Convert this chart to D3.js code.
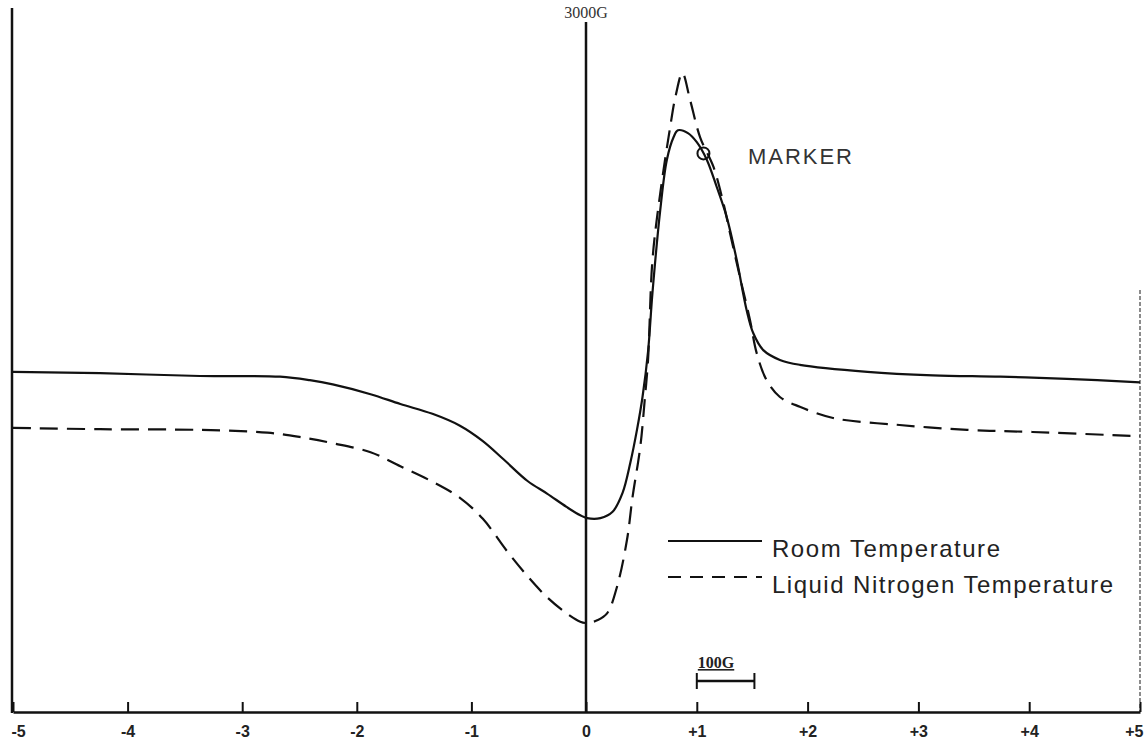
<!DOCTYPE html>
<html>
<head>
<meta charset="utf-8">
<script src="https://cdn.jsdelivr.net/npm/d3@7"></script>
<style>
  body { margin: 0; background: #fff; }
  svg { display: block; }
</style>
</head>
<body>
<svg id="chart" width="1144" height="749"></svg>
<script>
// Field offset (units of the sweep, 0 = 3000G) and signal in arbitrary units

var ticks = [-5, -4, -3, -2, -1, 0, 1, 2, 3, 4, 5];

var roomField = [-5.0, -4.24, -3.37, -2.67, -2.41, -2.21, -1.88, -1.62, -1.34, -1.10,
  -0.90, -0.72, -0.51, -0.34, -0.17, -0.05, 0.01, 0.13, 0.24, 0.33,
  0.40, 0.46, 0.51, 0.56, 0.60, 0.67, 0.73, 0.79, 0.83, 0.92,
  1.00, 1.09, 1.18, 1.27, 1.36, 1.45, 1.51, 1.60, 1.75, 1.93,
  2.54, 3.13, 3.74, 4.34, 5.0];
var roomSignal = [48.6, 48.4, 48.0, 47.9, 47.4, 46.8, 45.4, 44.0, 42.6, 40.9,
  38.7, 36.1, 33.0, 31.2, 29.3, 28.1, 27.7, 27.7, 28.6, 31.3,
  35.6, 40.3, 45.0, 51.5, 59.9, 71.7, 78.9, 82.1, 83.1, 82.7,
  81.4, 78.9, 75.0, 70.7, 64.6, 57.4, 54.1, 51.7, 50.3, 49.6,
  48.6, 48.1, 47.9, 47.6, 47.1];

var nitrogenField = [-5.0, -4.24, -3.37, -2.78, -2.50, -2.21, -1.88, -1.62, -1.34, -1.10,
  -0.90, -0.69, -0.51, -0.34, -0.17, -0.05, 0.01, 0.10, 0.19, 0.28,
  0.37, 0.42, 0.49, 0.53, 0.56, 0.60, 0.67, 0.76, 0.81, 0.87,
  0.94, 1.03, 1.15, 1.24, 1.30, 1.39, 1.48, 1.54, 1.63, 1.75,
  1.93, 2.23, 2.83, 3.44, 4.03, 5.0];
var nitrogenSignal = [40.6, 40.4, 40.3, 39.9, 39.3, 38.4, 37.1, 35.1, 32.9, 30.6,
  27.6, 23.0, 19.4, 16.4, 14.1, 12.9, 12.7, 13.1, 14.1, 17.9,
  24.6, 30.7, 37.9, 44.6, 50.3, 64.6, 74.1, 83.6, 88.1, 91.3,
  87.4, 82.1, 77.9, 72.7, 68.4, 62.1, 56.0, 51.3, 47.4, 45.0,
  43.6, 42.0, 41.0, 40.3, 40.0, 39.4];

var seriesNames = ["Room Temperature", "Liquid Nitrogen Temperature"];
var markerPoint = [1.06, 79.8];
var scaleBar = [1.0, 1.52];

var svg = d3.select("#chart");

// the sweep is slightly stretched on the left side of the scan
var x = d3.scaleLinear().domain([-5, 0, 5]).range([13, 586, 1140]);
var y = d3.scaleLinear().domain([0, 100]).range([712, 12]);

// Builds points from two parallel arrays
function zipSeries(xs, ys) {
  return xs.map(function(d, i) { return { f: d, s: ys[i] }; });
}

var line = d3.line()
  .x(function(d) { return x(d.f); })
  .y(function(d) { return y(d.s); })
  .curve(d3.curveCatmullRom.alpha(0.5));

// Frame: left edge, faint right edge, zero line
svg.append("line")
  .attr("x1", 12).attr("x2", 12).attr("y1", 8).attr("y2", 713)
  .attr("stroke", "#111").attr("stroke-width", 2.5);
svg.append("line")
  .attr("x1", 1140).attr("x2", 1140).attr("y1", 290).attr("y2", 712)
  .attr("stroke", "#666").attr("stroke-width", 1.5)
  .attr("stroke-dasharray", "4,2");
svg.append("line")
  .attr("x1", x(0)).attr("x2", x(0)).attr("y1", 22).attr("y2", 712)
  .attr("stroke", "#111").attr("stroke-width", 2.5);
svg.append("text")
  .attr("x", x(0)).attr("y", 18)
  .attr("text-anchor", "middle")
  .style("font-family", "'Liberation Serif', serif")
  .style("font-size", "16px")
  .attr("fill", "#333")
  .text("3000G");

// Bottom axis with ticks pointing up
var axis = d3.axisBottom(x)
  .tickValues(ticks)
  .tickSizeInner(-10)
  .tickSizeOuter(0)
  .tickPadding(14)
  .tickFormat(function(d) { return d > 0 ? "+" + d : d < 0 ? "-" + (-d) : "0"; });

var gAxis = svg.append("g")
  .attr("transform", "translate(0,712)")
  .call(axis);
gAxis.select(".domain").attr("stroke", "#111").attr("stroke-width", 2.5);
gAxis.selectAll(".tick line").attr("stroke", "#111").attr("stroke-width", 2);
gAxis.selectAll(".tick text")
  .style("font-family", "'Liberation Sans', Arial, sans-serif")
  .style("font-size", "16px")
  .style("font-weight", "bold")
  .attr("fill", "#222");
// keep the edge labels inside the page
gAxis.selectAll(".tick text")
  .filter(function(d) { return d === 5; })
  .attr("text-anchor", "end").attr("dx", 3);
gAxis.selectAll(".tick text")
  .filter(function(d) { return d === -5; })
  .attr("text-anchor", "start").attr("dx", -2);

// Curves
svg.append("path")
  .datum(zipSeries(roomField, roomSignal))
  .attr("d", line)
  .attr("fill", "none")
  .attr("stroke", "#111")
  .attr("stroke-width", 2.2);

svg.append("path")
  .datum(zipSeries(nitrogenField, nitrogenSignal))
  .attr("d", line)
  .attr("fill", "none")
  .attr("stroke", "#111")
  .attr("stroke-width", 2.2)
  .attr("stroke-dasharray", "18,9");

// Marker pip on the room temperature peak
svg.append("circle")
  .attr("cx", x(markerPoint[0])).attr("cy", y(markerPoint[1]))
  .attr("r", 6)
  .attr("fill", "none").attr("stroke", "#111").attr("stroke-width", 2);
svg.append("text")
  .attr("x", 748).attr("y", 164)
  .style("font-family", "'Liberation Sans', Arial, sans-serif")
  .style("font-size", "22px")
  .attr("textLength", 104)
  .attr("fill", "#333")
  .text("MARKER");

// Legend
var legend = svg.append("g").attr("transform", "translate(668,541)");
seriesNames.forEach(function(name, i) {
  legend.append("line")
    .attr("x1", 0).attr("x2", 94)
    .attr("y1", i * 36).attr("y2", i * 36)
    .attr("stroke", "#111").attr("stroke-width", 2)
    .attr("stroke-dasharray", i === 1 ? "13,9" : null);
  legend.append("text")
    .attr("x", 104).attr("y", i * 36 + 16)
    .style("font-family", "'Liberation Sans', Arial, sans-serif")
    .style("font-size", "24px")
    .attr("textLength", i === 0 ? 228 : 341)
    .attr("fill", "#222")
    .text(name);
});

// 100G scale bar
var bar = svg.append("g");
bar.append("line")
  .attr("x1", x(scaleBar[0])).attr("x2", x(scaleBar[1]))
  .attr("y1", 681).attr("y2", 681)
  .attr("stroke", "#111").attr("stroke-width", 2.5);
scaleBar.forEach(function(v) {
  bar.append("line")
    .attr("x1", x(v)).attr("x2", x(v))
    .attr("y1", 673).attr("y2", 689)
    .attr("stroke", "#111").attr("stroke-width", 2);
});
bar.append("text")
  .attr("x", x(scaleBar[0]) + 1).attr("y", 668)
  .style("font-family", "'Liberation Serif', serif")
  .style("font-size", "16px").style("font-weight", "bold")
  .style("text-decoration", "underline")
  .attr("fill", "#222")
  .text("100G");
</script>
</body>
</html>
